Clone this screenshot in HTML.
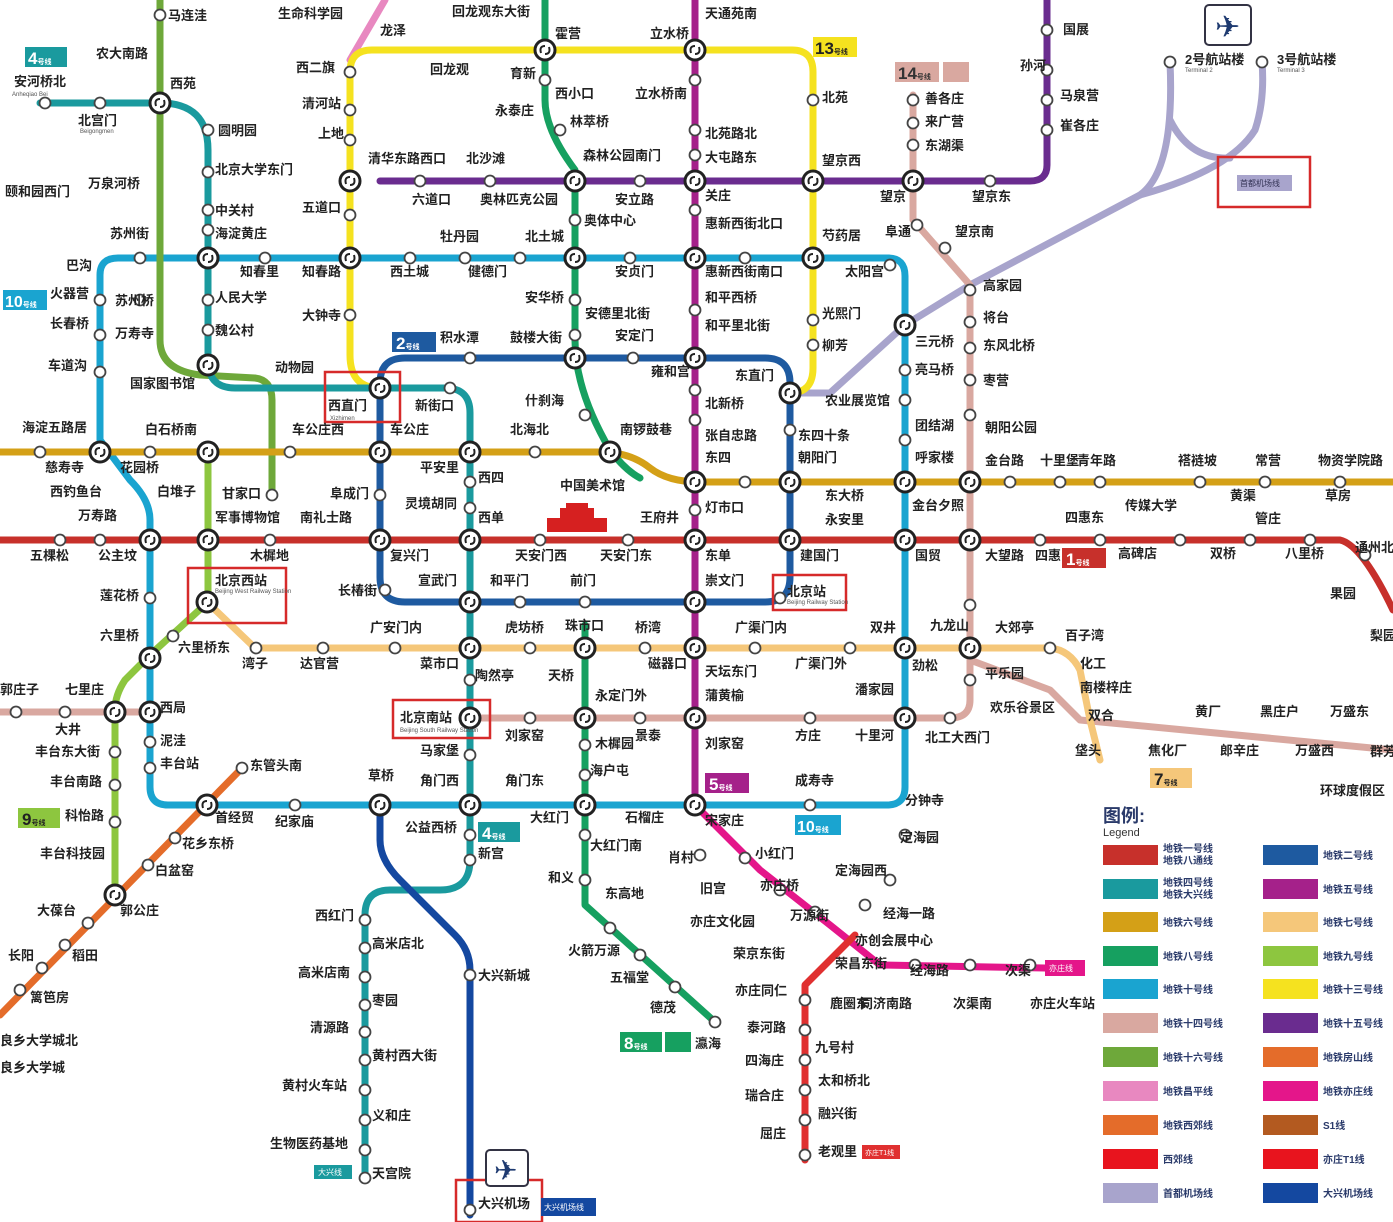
<!DOCTYPE html>
<html><head><meta charset="utf-8"><style>
html,body{margin:0;padding:0;background:#fff;}
svg{display:block;}
text{font-family:"Liberation Sans","Noto Sans CJK SC",sans-serif;}
.c{font-size:13px;font-weight:bold;fill:#222;}
.e{font-size:6px;fill:#555;}
.l{fill:none;stroke-width:7;stroke-linecap:round;stroke-linejoin:round;}
</style></head><body>
<svg width="1393" height="1222" viewBox="0 0 1393 1222" xmlns="http://www.w3.org/2000/svg">
<defs>
<g id="x"><circle r="10" fill="#fff" stroke="#222" stroke-width="3"/><path d="M-4,3 Q-6,-4 0,-4 M4,-3 Q6,4 0,4" stroke="#222" stroke-width="2" fill="none"/></g>
<g id="s"><circle r="5.5" fill="#fff" stroke="#444" stroke-width="1.8"/></g>
</defs>
<!-- Changping -->
<path class="l" stroke="#e888c0" d="M350,60 L385,0"/>
<!-- Airport express -->
<path class="l" stroke="#a8a4cc" stroke-width="8" d="M795,393 L830,393 L905,325 L970,285 L1140,195 Q1175,170 1170,62"/>
<path class="l" stroke="#a8a4cc" d="M1140,195 Q1230,170 1255,130 Q1265,100 1262,62"/>
<path class="l" stroke="#a8a4cc" stroke-width="4" d="M1170,120 Q1190,160 1230,158"/>
<!-- Line 15 -->
<path class="l" stroke="#6a2c8f" d="M380,181 L1030,181 Q1047,181 1047,165 L1047,0"/>
<!-- Line 14 -->
<path class="l" stroke="#d9a8a0" d="M913,95 L913,220 L970,285 L970,700 Q970,718 950,718 L470,718"/>
<path class="l" stroke="#d9a8a0" d="M0,712 L150,712"/>
<path class="l" stroke="#d9a8a0" d="M970,660 L1050,690 L1080,720 L1393,750"/>
<!-- Line 13 -->
<path class="l" stroke="#f5e21f" d="M380,388 Q350,388 350,355 L350,72 Q350,50 372,50 L792,50 Q813,50 813,72 L813,368 Q813,393 790,393"/>
<!-- Line 10 -->
<path class="l" stroke="#1aa4d0" d="M100,440 L100,275 Q100,258 118,258 L888,258 Q905,258 905,276 L905,787 Q905,805 887,805 L168,805 Q150,805 150,787 L150,520 Q150,500 130,480 L100,440"/>
<!-- Line 2 -->
<path class="l" stroke="#1e5aa0" d="M405,358 L765,358 Q790,358 790,383 L790,577 Q790,602 765,602 L405,602 Q380,602 380,577 L380,383 Q380,358 405,358"/>
<!-- Line 16 -->
<path class="l" stroke="#6ea83a" d="M160,0 L160,340 Q160,370 200,375 L255,378 Q272,380 272,400 L272,495"/>
<!-- Line 4 / Daxing -->
<path class="l" stroke="#1a9a9e" d="M40,103 L160,103 Q208,103 208,150 L208,360 Q208,388 235,388 L445,388 Q470,388 470,413 L470,860 Q470,890 440,890 L390,890 Q365,890 365,915 L365,1180"/>
<!-- Line 6 -->
<path class="l" stroke="#d4a017" d="M0,452 L600,452 Q630,452 650,468 Q668,482 700,482 L1393,482"/>
<!-- Line 1 -->
<path class="l" stroke="#c7302b" d="M0,540 L1340,540 Q1362,545 1393,610"/>
<!-- Line 5 -->
<path class="l" stroke="#a5218a" d="M695,0 L695,805"/>
<!-- Yizhuang -->
<path class="l" stroke="#e4168a" d="M695,805 L760,870 L830,925 L880,965 L1045,968"/>
<path class="l" stroke="#e03030" d="M855,935 L805,985 L805,1160"/>
<!-- Line 8 -->
<path class="l" stroke="#16a060" d="M545,0 L545,100 Q545,130 575,170 L575,340 Q575,390 610,450 Q625,470 640,478"/>
<path class="l" stroke="#16a060" d="M585,625 L585,905 L715,1022"/>
<!-- Line 7 -->
<path class="l" stroke="#f5c77a" d="M207,602 L255,648 L1050,648 Q1070,650 1080,670 L1090,720 L1100,760"/>
<!-- Line 9 -->
<path class="l" stroke="#8dc63f" d="M208,450 L208,602 L150,655 L125,680 Q115,695 115,710 L115,895"/>
<!-- Fangshan -->
<path class="l" stroke="#e46c2a" d="M242,768 L0,1015"/>
<!-- Daxing airport -->
<path class="l" stroke="#1448a0" d="M380,805 L380,840 Q380,860 400,880 L455,935 Q470,950 470,970 L470,1215"/>

<!-- interchanges -->
<g>
<use href="#x" x="160" y="103"/><use href="#x" x="208" y="258"/><use href="#x" x="350" y="258"/><use href="#x" x="575" y="258"/><use href="#x" x="695" y="258"/><use href="#x" x="813" y="258"/>
<use href="#x" x="350" y="181"/><use href="#x" x="575" y="181"/><use href="#x" x="695" y="181"/><use href="#x" x="813" y="181"/><use href="#x" x="913" y="181"/>
<use href="#x" x="545" y="50"/><use href="#x" x="695" y="50"/><use href="#x" x="208" y="365"/>
<use href="#x" x="380" y="388"/><use href="#x" x="575" y="358"/><use href="#x" x="695" y="358"/><use href="#x" x="790" y="393"/><use href="#x" x="905" y="325"/>
<use href="#x" x="100" y="452"/><use href="#x" x="208" y="452"/><use href="#x" x="380" y="452"/><use href="#x" x="470" y="452"/><use href="#x" x="610" y="452"/><use href="#x" x="695" y="482"/><use href="#x" x="790" y="482"/><use href="#x" x="905" y="482"/><use href="#x" x="970" y="482"/>
<use href="#x" x="150" y="540"/><use href="#x" x="208" y="540"/><use href="#x" x="380" y="540"/><use href="#x" x="470" y="540"/><use href="#x" x="695" y="540"/><use href="#x" x="790" y="540"/><use href="#x" x="905" y="540"/><use href="#x" x="970" y="540"/>
<use href="#x" x="207" y="602"/><use href="#x" x="470" y="602"/><use href="#x" x="695" y="602"/>
<use href="#x" x="150" y="658"/><use href="#x" x="470" y="648"/><use href="#x" x="585" y="648"/><use href="#x" x="695" y="648"/><use href="#x" x="905" y="648"/><use href="#x" x="970" y="648"/>
<use href="#x" x="115" y="712"/><use href="#x" x="150" y="712"/><use href="#x" x="470" y="718"/><use href="#x" x="585" y="718"/><use href="#x" x="695" y="718"/><use href="#x" x="905" y="718"/>
<use href="#x" x="207" y="805"/><use href="#x" x="380" y="805"/><use href="#x" x="470" y="805"/><use href="#x" x="585" y="805"/><use href="#x" x="695" y="805"/>
<use href="#x" x="115" y="895"/>
</g>
<!-- simple stations -->
<g>
<use href="#s" x="160" y="15"/><use href="#s" x="100" y="103"/><use href="#s" x="45" y="103"/><use href="#s" x="208" y="130"/><use href="#s" x="208" y="172"/><use href="#s" x="208" y="210"/><use href="#s" x="208" y="230"/>
<use href="#s" x="350" y="72"/><use href="#s" x="350" y="110"/><use href="#s" x="350" y="140"/><use href="#s" x="350" y="215"/><use href="#s" x="813" y="100"/><use href="#s" x="813" y="320"/><use href="#s" x="813" y="345"/>
<use href="#s" x="545" y="80"/><use href="#s" x="560" y="130"/><use href="#s" x="575" y="220"/><use href="#s" x="575" y="300"/><use href="#s" x="575" y="335"/><use href="#s" x="585" y="415"/>
<use href="#s" x="695" y="80"/><use href="#s" x="695" y="130"/><use href="#s" x="695" y="155"/><use href="#s" x="695" y="210"/><use href="#s" x="695" y="310"/><use href="#s" x="695" y="390"/><use href="#s" x="695" y="420"/><use href="#s" x="695" y="510"/>
<use href="#s" x="420" y="181"/><use href="#s" x="490" y="181"/><use href="#s" x="640" y="181"/><use href="#s" x="990" y="181"/><use href="#s" x="1047" y="30"/><use href="#s" x="1047" y="70"/><use href="#s" x="1047" y="100"/><use href="#s" x="1047" y="130"/>
<use href="#s" x="913" y="100"/><use href="#s" x="913" y="123"/><use href="#s" x="913" y="145"/><use href="#s" x="917" y="225"/><use href="#s" x="945" y="248"/>
<use href="#s" x="970" y="290"/><use href="#s" x="970" y="322"/><use href="#s" x="970" y="348"/><use href="#s" x="970" y="380"/><use href="#s" x="970" y="415"/><use href="#s" x="970" y="605"/><use href="#s" x="970" y="680"/>
<use href="#s" x="140" y="258"/><use href="#s" x="265" y="258"/><use href="#s" x="410" y="258"/><use href="#s" x="465" y="258"/><use href="#s" x="520" y="258"/><use href="#s" x="630" y="258"/><use href="#s" x="745" y="258"/><use href="#s" x="890" y="265"/>
<use href="#s" x="100" y="300"/><use href="#s" x="100" y="335"/><use href="#s" x="100" y="372"/><use href="#s" x="140" y="300"/><use href="#s" x="208" y="300"/><use href="#s" x="208" y="330"/><use href="#s" x="350" y="315"/><use href="#s" x="272" y="495"/>
<use href="#s" x="470" y="358"/><use href="#s" x="450" y="388"/><use href="#s" x="633" y="358"/><use href="#s" x="790" y="430"/><use href="#s" x="905" y="370"/><use href="#s" x="905" y="400"/><use href="#s" x="905" y="440"/>
<use href="#s" x="40" y="452"/><use href="#s" x="150" y="452"/><use href="#s" x="290" y="452"/><use href="#s" x="535" y="452"/><use href="#s" x="745" y="482"/><use href="#s" x="1010" y="482"/><use href="#s" x="1060" y="482"/><use href="#s" x="1100" y="482"/><use href="#s" x="1200" y="482"/><use href="#s" x="1265" y="482"/><use href="#s" x="1340" y="482"/>
<use href="#s" x="470" y="482"/><use href="#s" x="470" y="508"/><use href="#s" x="380" y="495"/>
<use href="#s" x="60" y="540"/><use href="#s" x="100" y="540"/><use href="#s" x="270" y="540"/><use href="#s" x="540" y="540"/><use href="#s" x="628" y="540"/><use href="#s" x="1040" y="540"/><use href="#s" x="1100" y="540"/><use href="#s" x="1180" y="540"/><use href="#s" x="1250" y="540"/><use href="#s" x="1310" y="540"/><use href="#s" x="1365" y="555"/>
<use href="#s" x="385" y="590"/><use href="#s" x="520" y="602"/><use href="#s" x="585" y="602"/><use href="#s" x="780" y="598"/><use href="#s" x="150" y="598"/><use href="#s" x="173" y="636"/>
<use href="#s" x="256" y="648"/><use href="#s" x="323" y="648"/><use href="#s" x="395" y="648"/><use href="#s" x="530" y="648"/><use href="#s" x="645" y="648"/><use href="#s" x="755" y="648"/><use href="#s" x="850" y="648"/><use href="#s" x="1050" y="648"/>
<use href="#s" x="470" y="680"/><use href="#s" x="470" y="755"/><use href="#s" x="16" y="712"/><use href="#s" x="65" y="712"/><use href="#s" x="530" y="718"/><use href="#s" x="640" y="718"/><use href="#s" x="810" y="718"/><use href="#s" x="950" y="718"/>
<use href="#s" x="150" y="742"/><use href="#s" x="150" y="768"/><use href="#s" x="115" y="752"/><use href="#s" x="115" y="785"/><use href="#s" x="115" y="822"/><use href="#s" x="242" y="768"/><use href="#s" x="295" y="805"/><use href="#s" x="810" y="805"/>
<use href="#s" x="175" y="838"/><use href="#s" x="148" y="865"/><use href="#s" x="88" y="923"/><use href="#s" x="65" y="945"/><use href="#s" x="42" y="968"/><use href="#s" x="20" y="990"/>
<use href="#s" x="470" y="835"/><use href="#s" x="470" y="860"/><use href="#s" x="365" y="920"/><use href="#s" x="365" y="948"/><use href="#s" x="365" y="977"/><use href="#s" x="365" y="1005"/><use href="#s" x="365" y="1032"/><use href="#s" x="365" y="1060"/><use href="#s" x="365" y="1090"/><use href="#s" x="365" y="1120"/><use href="#s" x="365" y="1150"/><use href="#s" x="365" y="1178"/><use href="#s" x="470" y="975"/><use href="#s" x="470" y="1210"/>
<use href="#s" x="585" y="745"/><use href="#s" x="585" y="775"/><use href="#s" x="585" y="835"/><use href="#s" x="585" y="880"/><use href="#s" x="610" y="928"/><use href="#s" x="640" y="955"/><use href="#s" x="675" y="987"/><use href="#s" x="715" y="1022"/>
<use href="#s" x="700" y="855"/><use href="#s" x="745" y="858"/><use href="#s" x="780" y="890"/><use href="#s" x="815" y="912"/><use href="#s" x="915" y="965"/><use href="#s" x="970" y="965"/><use href="#s" x="1030" y="965"/>
<use href="#s" x="905" y="835"/><use href="#s" x="890" y="880"/><use href="#s" x="865" y="905"/>
<use href="#s" x="805" y="1000"/><use href="#s" x="805" y="1030"/><use href="#s" x="805" y="1060"/><use href="#s" x="805" y="1090"/><use href="#s" x="805" y="1120"/><use href="#s" x="805" y="1155"/>
<use href="#s" x="1170" y="62"/><use href="#s" x="1262" y="62"/>
</g>

<!-- red highlight boxes -->
<g fill="none" stroke="#d62a2a" stroke-width="2.5">
<rect x="325" y="372" width="75" height="50"/><rect x="188" y="568" width="98" height="55"/><rect x="393" y="700" width="97" height="38"/><rect x="773" y="575" width="73" height="35"/><rect x="1218" y="157" width="92" height="50"/><rect x="456" y="1180" width="86" height="42"/>
</g>
<rect x="1237" y="175" width="55" height="16" fill="#a8a4cc"/><text x="1240" y="186" style="font-size:8px;fill:#335">首都机场线</text>
<rect x="541" y="1198" width="55" height="18" fill="#1448a0"/><text x="544" y="1210" style="font-size:8px;fill:#fff">大兴机场线</text>
<rect x="314" y="1165" width="38" height="14" fill="#1a9a9e"/><text x="318" y="1175" style="font-size:8px;fill:#fff">大兴线</text>
<rect x="1045" y="960" width="40" height="16" fill="#e4168a"/><text x="1049" y="971" style="font-size:8px;fill:#fff">亦庄线</text>
<rect x="862" y="1145" width="38" height="14" fill="#e03030"/><text x="865" y="1155" style="font-size:7px;fill:#fff">亦庄T1线</text>
<!-- airplane icons -->
<rect x="1205" y="5" width="46" height="40" rx="4" fill="#fff" stroke="#334" stroke-width="2"/><text x="1215" y="37" style="font-size:30px;fill:#1e3a70">✈</text>
<rect x="486" y="1150" width="42" height="36" rx="4" fill="#fff" stroke="#334" stroke-width="2"/><text x="494" y="1180" style="font-size:28px;fill:#1e3a70">✈</text>
<!-- Tiananmen -->
<rect x="547" y="518" width="60" height="14" fill="#d62020"/><rect x="560" y="508" width="34" height="12" fill="#d62020"/><rect x="566" y="503" width="22" height="6" fill="#d62020"/>

<!-- line badges -->
<g style="font-weight:bold">
<rect x="25" y="47" width="42" height="20" fill="#1a9a9e"/><text x="28" y="64" style="font-size:17px;fill:#fff">4<tspan style="font-size:7px">号线</tspan></text>
<rect x="3" y="290" width="44" height="20" fill="#1aa4d0"/><text x="5" y="307" style="font-size:16px;fill:#fff">10<tspan style="font-size:7px">号线</tspan></text>
<rect x="392" y="332" width="44" height="20" fill="#1e5aa0"/><text x="396" y="349" style="font-size:17px;fill:#fff">2<tspan style="font-size:7px">号线</tspan></text>
<rect x="813" y="37" width="44" height="20" fill="#f5e21f"/><text x="815" y="54" style="font-size:17px;fill:#222">13<tspan style="font-size:7px">号线</tspan></text>
<rect x="895" y="62" width="44" height="20" fill="#d9a8a0"/><text x="898" y="79" style="font-size:17px;fill:#333">14<tspan style="font-size:7px">号线</tspan></text>
<rect x="943" y="62" width="26" height="20" fill="#d9a8a0"/>
<rect x="1062" y="548" width="44" height="20" fill="#c7302b"/><text x="1066" y="565" style="font-size:17px;fill:#fff">1<tspan style="font-size:7px">号线</tspan></text>
<rect x="705" y="773" width="44" height="20" fill="#a5218a"/><text x="709" y="790" style="font-size:17px;fill:#fff">5<tspan style="font-size:7px">号线</tspan></text>
<rect x="1150" y="768" width="42" height="20" fill="#f5c77a"/><text x="1154" y="785" style="font-size:17px;fill:#222">7<tspan style="font-size:7px">号线</tspan></text>
<rect x="18" y="808" width="42" height="20" fill="#8dc63f"/><text x="22" y="825" style="font-size:17px;fill:#222">9<tspan style="font-size:7px">号线</tspan></text>
<rect x="478" y="822" width="42" height="20" fill="#1a9a9e"/><text x="482" y="839" style="font-size:17px;fill:#fff">4<tspan style="font-size:7px">号线</tspan></text>
<rect x="795" y="815" width="46" height="20" fill="#1aa4d0"/><text x="797" y="832" style="font-size:16px;fill:#fff">10<tspan style="font-size:7px">号线</tspan></text>
<rect x="620" y="1032" width="42" height="20" fill="#16a060"/><text x="624" y="1049" style="font-size:17px;fill:#fff">8<tspan style="font-size:7px">号线</tspan></text>
<rect x="665" y="1032" width="26" height="20" fill="#16a060"/>
</g>

<!-- station labels -->
<g class="c">
<text x="168" y="20">马连洼</text><text x="278" y="18">生命科学园</text><text x="380" y="35">龙泽</text><text x="452" y="16">回龙观东大街</text><text x="555" y="38">霍营</text><text x="650" y="38">立水桥</text><text x="705" y="18">天通苑南</text>
<text x="96" y="58">农大南路</text><text x="170" y="88">西苑</text><text x="14" y="86">安河桥北</text><text x="78" y="125">北宫门</text><text x="296" y="72">西二旗</text><text x="430" y="74">回龙观</text><text x="510" y="78">育新</text><text x="555" y="98">西小口</text><text x="635" y="98">立水桥南</text><text x="822" y="102">北苑</text>
<text x="218" y="135">圆明园</text><text x="302" y="108">清河站</text><text x="318" y="138">上地</text><text x="495" y="115">永泰庄</text><text x="570" y="126">林萃桥</text><text x="705" y="138">北苑路北</text><text x="705" y="162">大屯路东</text><text x="822" y="165">望京西</text><text x="925" y="103">善各庄</text><text x="925" y="126">来广营</text><text x="925" y="150">东湖渠</text><text x="1063" y="34">国展</text><text x="1020" y="70">孙河</text><text x="1060" y="100">马泉营</text><text x="1060" y="130">崔各庄</text><text x="1185" y="64">2号航站楼</text><text x="1277" y="64">3号航站楼</text>
<text x="215" y="174">北京大学东门</text><text x="88" y="188">万泉河桥</text><text x="5" y="196">颐和园西门</text><text x="368" y="163">清华东路西口</text><text x="466" y="163">北沙滩</text><text x="583" y="160">森林公园南门</text><text x="412" y="204">六道口</text><text x="480" y="204">奥林匹克公园</text><text x="615" y="204">安立路</text><text x="584" y="225">奥体中心</text><text x="705" y="200">关庄</text><text x="705" y="228">惠新西街北口</text><text x="880" y="201">望京</text><text x="972" y="201">望京东</text>
<text x="215" y="215">中关村</text><text x="215" y="238">海淀黄庄</text><text x="302" y="212">五道口</text><text x="110" y="238">苏州街</text><text x="440" y="241">牡丹园</text><text x="525" y="241">北土城</text><text x="822" y="240">芍药居</text><text x="885" y="236">阜通</text><text x="955" y="236">望京南</text>
<text x="66" y="270">巴沟</text><text x="240" y="276">知春里</text><text x="302" y="276">知春路</text><text x="390" y="276">西土城</text><text x="468" y="276">健德门</text><text x="615" y="276">安贞门</text><text x="705" y="276">惠新西街南口</text><text x="845" y="276">太阳宫</text><text x="983" y="290">高家园</text>
<text x="50" y="298">火器营</text><text x="115" y="305">苏州桥</text><text x="215" y="302">人民大学</text><text x="302" y="320">大钟寺</text><text x="525" y="302">安华桥</text><text x="585" y="318">安德里北街</text><text x="705" y="302">和平西桥</text><text x="705" y="330">和平里北街</text><text x="822" y="318">光熙门</text><text x="983" y="322">将台</text><text x="983" y="350">东风北桥</text>
<text x="50" y="328">长春桥</text><text x="115" y="338">万寿寺</text><text x="215" y="335">魏公村</text><text x="440" y="342">积水潭</text><text x="510" y="342">鼓楼大街</text><text x="615" y="340">安定门</text><text x="822" y="350">柳芳</text><text x="915" y="346">三元桥</text><text x="915" y="374">亮马桥</text><text x="983" y="385">枣营</text>
<text x="48" y="370">车道沟</text><text x="275" y="372">动物园</text><text x="130" y="388">国家图书馆</text><text x="651" y="376">雍和宫</text><text x="735" y="380">东直门</text><text x="328" y="410">西直门</text><text x="415" y="410">新街口</text><text x="525" y="405">什刹海</text><text x="705" y="408">北新桥</text><text x="825" y="405">农业展览馆</text><text x="915" y="430">团结湖</text><text x="985" y="432">朝阳公园</text>
<text x="22" y="432">海淀五路居</text><text x="145" y="434">白石桥南</text><text x="292" y="434">车公庄西</text><text x="390" y="434">车公庄</text><text x="510" y="434">北海北</text><text x="620" y="434">南锣鼓巷</text><text x="705" y="440">张自忠路</text><text x="798" y="440">东四十条</text>
<text x="45" y="472">慈寿寺</text><text x="120" y="472">花园桥</text><text x="420" y="472">平安里</text><text x="478" y="482">西四</text><text x="705" y="462">东四</text><text x="798" y="462">朝阳门</text><text x="915" y="462">呼家楼</text><text x="985" y="465">金台路</text><text x="1040" y="465">十里堡</text><text x="1077" y="465">青年路</text><text x="1178" y="465">褡裢坡</text><text x="1255" y="465">常营</text><text x="1318" y="465">物资学院路</text>
<text x="50" y="496">西钓鱼台</text><text x="157" y="496">白堆子</text><text x="222" y="498">甘家口</text><text x="330" y="498">阜成门</text><text x="405" y="508">灵境胡同</text><text x="560" y="490">中国美术馆</text><text x="705" y="512">灯市口</text><text x="825" y="500">东大桥</text><text x="912" y="510">金台夕照</text><text x="1230" y="500">黄渠</text><text x="1325" y="500">草房</text>
<text x="78" y="520">万寿路</text><text x="215" y="522">军事博物馆</text><text x="300" y="522">南礼士路</text><text x="478" y="522">西单</text><text x="640" y="522">王府井</text><text x="825" y="524">永安里</text><text x="1065" y="522">四惠东</text><text x="1125" y="510">传媒大学</text><text x="1255" y="523">管庄</text>
<text x="30" y="560">五棵松</text><text x="98" y="560">公主坟</text><text x="250" y="560">木樨地</text><text x="390" y="560">复兴门</text><text x="515" y="560">天安门西</text><text x="600" y="560">天安门东</text><text x="705" y="560">东单</text><text x="800" y="560">建国门</text><text x="915" y="560">国贸</text><text x="985" y="560">大望路</text><text x="1035" y="560">四惠</text><text x="1118" y="558">高碑店</text><text x="1210" y="558">双桥</text><text x="1285" y="558">八里桥</text><text x="1355" y="552">通州北</text>
<text x="215" y="585">北京西站</text><text x="100" y="600">莲花桥</text><text x="338" y="595">长椿街</text><text x="418" y="585">宣武门</text><text x="490" y="585">和平门</text><text x="570" y="585">前门</text><text x="705" y="585">崇文门</text><text x="787" y="596">北京站</text><text x="930" y="630">九龙山</text><text x="995" y="632">大郊亭</text><text x="1330" y="598">果园</text>
<text x="100" y="640">六里桥</text><text x="178" y="652">六里桥东</text><text x="242" y="668">湾子</text><text x="300" y="668">达官营</text><text x="370" y="632">广安门内</text><text x="420" y="668">菜市口</text><text x="475" y="680">陶然亭</text><text x="505" y="632">虎坊桥</text><text x="565" y="630">珠市口</text><text x="635" y="632">桥湾</text><text x="648" y="668">磁器口</text><text x="735" y="632">广渠门内</text><text x="705" y="676">天坛东门</text><text x="795" y="668">广渠门外</text><text x="870" y="632">双井</text><text x="912" y="670">劲松</text><text x="985" y="678">平乐园</text><text x="1065" y="640">百子湾</text><text x="1080" y="668">化工</text><text x="1080" y="692">南楼梓庄</text><text x="1370" y="640">梨园</text>
<text x="0" y="694">郭庄子</text><text x="65" y="694">七里庄</text><text x="160" y="712">西局</text><text x="55" y="734">大井</text><text x="400" y="722">北京南站</text><text x="548" y="680">天桥</text><text x="595" y="700">永定门外</text><text x="705" y="700">蒲黄榆</text><text x="855" y="694">潘家园</text><text x="990" y="712">欢乐谷景区</text><text x="1088" y="720">双合</text><text x="1195" y="716">黄厂</text><text x="1260" y="716">黑庄户</text><text x="1330" y="716">万盛东</text>
<text x="35" y="756">丰台东大街</text><text x="160" y="745">泥洼</text><text x="160" y="768">丰台站</text><text x="50" y="786">丰台南路</text><text x="250" y="770">东管头南</text><text x="420" y="755">马家堡</text><text x="505" y="740">刘家窑</text><text x="595" y="748">木樨园</text><text x="590" y="775">海户屯</text><text x="635" y="740">景泰</text><text x="705" y="748">刘家窑</text><text x="795" y="740">方庄</text><text x="855" y="740">十里河</text><text x="925" y="742">北工大西门</text><text x="1075" y="755">垡头</text><text x="1148" y="755">焦化厂</text><text x="1220" y="755">郎辛庄</text><text x="1295" y="755">万盛西</text><text x="1370" y="756">群芳</text>
<text x="65" y="820">科怡路</text><text x="368" y="780">草桥</text><text x="420" y="785">角门西</text><text x="505" y="785">角门东</text><text x="215" y="822">首经贸</text><text x="275" y="826">纪家庙</text><text x="530" y="822">大红门</text><text x="625" y="822">石榴庄</text><text x="705" y="825">宋家庄</text><text x="795" y="785">成寿寺</text><text x="905" y="805">分钟寺</text><text x="1320" y="795">环球度假区</text>
<text x="40" y="858">丰台科技园</text><text x="182" y="848">花乡东桥</text><text x="155" y="875">白盆窑</text><text x="405" y="832">公益西桥</text><text x="478" y="858">新宫</text><text x="590" y="850">大红门南</text><text x="900" y="842">定海园</text><text x="668" y="862">肖村</text><text x="755" y="858">小红门</text><text x="835" y="875">定海园西</text>
<text x="37" y="915">大葆台</text><text x="120" y="915">郭公庄</text><text x="315" y="920">西红门</text><text x="372" y="948">高米店北</text><text x="298" y="977">高米店南</text><text x="372" y="1005">枣园</text><text x="310" y="1032">清源路</text><text x="372" y="1060">黄村西大街</text><text x="282" y="1090">黄村火车站</text><text x="372" y="1120">义和庄</text><text x="270" y="1148">生物医药基地</text><text x="372" y="1178">天宫院</text>
<text x="8" y="960">长阳</text><text x="72" y="960">稻田</text><text x="30" y="1002">篱笆房</text><text x="0" y="1045">良乡大学城北</text><text x="0" y="1072">良乡大学城</text>
<text x="478" y="980">大兴新城</text><text x="548" y="882">和义</text><text x="605" y="898">东高地</text><text x="568" y="955">火箭万源</text><text x="610" y="982">五福堂</text><text x="650" y="1012">德茂</text><text x="695" y="1048">瀛海</text><text x="478" y="1208">大兴机场</text>
<text x="700" y="893">旧宫</text><text x="760" y="890">亦庄桥</text><text x="690" y="926">亦庄文化园</text><text x="790" y="920">万源街</text><text x="855" y="945">亦创会展中心</text><text x="883" y="918">经海一路</text><text x="733" y="958">荣京东街</text><text x="835" y="968">荣昌东街</text><text x="735" y="995">亦庄同仁</text><text x="910" y="975">经海路</text><text x="1005" y="975">次渠</text><text x="830" y="1008">鹿圈东</text><text x="860" y="1008">同济南路</text><text x="953" y="1008">次渠南</text><text x="1030" y="1008">亦庄火车站</text><text x="747" y="1032">泰河路</text><text x="815" y="1052">九号村</text><text x="745" y="1065">四海庄</text><text x="818" y="1085">太和桥北</text><text x="745" y="1100">瑞合庄</text><text x="818" y="1118">融兴街</text><text x="760" y="1138">屈庄</text><text x="818" y="1156">老观里</text>
</g>
<g class="e">
<text x="12" y="96">Anheqiao Bei</text><text x="80" y="133">Beigongmen</text><text x="330" y="420">Xizhimen</text><text x="215" y="593">Beijing West Railway Station</text><text x="400" y="732">Beijing South Railway Station</text><text x="787" y="604">Beijing Railway Station</text><text x="1185" y="72">Terminal 2</text><text x="1277" y="72">Terminal 3</text>
</g>

<!-- legend -->
<text x="1103" y="822" style="font-size:18px;font-weight:bold;fill:#2a3a6a">图例:</text>
<text x="1103" y="836" style="font-size:11px;fill:#333">Legend</text>
<g>
<rect x="1103" y="845" width="55" height="20" fill="#c7302b"/><rect x="1263" y="845" width="55" height="20" fill="#1e5aa0"/>
<rect x="1103" y="879" width="55" height="20" fill="#1a9a9e"/><rect x="1263" y="879" width="55" height="20" fill="#a5218a"/>
<rect x="1103" y="912" width="55" height="20" fill="#d4a017"/><rect x="1263" y="912" width="55" height="20" fill="#f5c77a"/>
<rect x="1103" y="946" width="55" height="20" fill="#16a060"/><rect x="1263" y="946" width="55" height="20" fill="#8dc63f"/>
<rect x="1103" y="979" width="55" height="20" fill="#1aa4d0"/><rect x="1263" y="979" width="55" height="20" fill="#f5e21f"/>
<rect x="1103" y="1013" width="55" height="20" fill="#d9a8a0"/><rect x="1263" y="1013" width="55" height="20" fill="#6a2c8f"/>
<rect x="1103" y="1047" width="55" height="20" fill="#6ea83a"/><rect x="1263" y="1047" width="55" height="20" fill="#e46c2a"/>
<rect x="1103" y="1081" width="55" height="20" fill="#e888c0"/><rect x="1263" y="1081" width="55" height="20" fill="#e4168a"/>
<rect x="1103" y="1115" width="55" height="20" fill="#e46c2a"/><rect x="1263" y="1115" width="55" height="20" fill="#b35a20"/>
<rect x="1103" y="1149" width="55" height="20" fill="#e8141e"/><rect x="1263" y="1149" width="55" height="20" fill="#e8141e"/>
<rect x="1103" y="1183" width="55" height="20" fill="#a8a4cc"/><rect x="1263" y="1183" width="55" height="20" fill="#1448a0"/>
</g>
<g style="font-size:10px;fill:#2a3a6a;font-weight:bold">
<text x="1163" y="852">地铁一号线</text><text x="1163" y="864">地铁八通线</text><text x="1323" y="859">地铁二号线</text>
<text x="1163" y="886">地铁四号线</text><text x="1163" y="898">地铁大兴线</text><text x="1323" y="893">地铁五号线</text>
<text x="1163" y="926">地铁六号线</text><text x="1323" y="926">地铁七号线</text>
<text x="1163" y="960">地铁八号线</text><text x="1323" y="960">地铁九号线</text>
<text x="1163" y="993">地铁十号线</text><text x="1323" y="993">地铁十三号线</text>
<text x="1163" y="1027">地铁十四号线</text><text x="1323" y="1027">地铁十五号线</text>
<text x="1163" y="1061">地铁十六号线</text><text x="1323" y="1061">地铁房山线</text>
<text x="1163" y="1095">地铁昌平线</text><text x="1323" y="1095">地铁亦庄线</text>
<text x="1163" y="1129">地铁西郊线</text><text x="1323" y="1129">S1线</text>
<text x="1163" y="1163">西郊线</text><text x="1323" y="1163">亦庄T1线</text>
<text x="1163" y="1197">首都机场线</text><text x="1323" y="1197">大兴机场线</text>
</g>
</svg>
</body></html>
